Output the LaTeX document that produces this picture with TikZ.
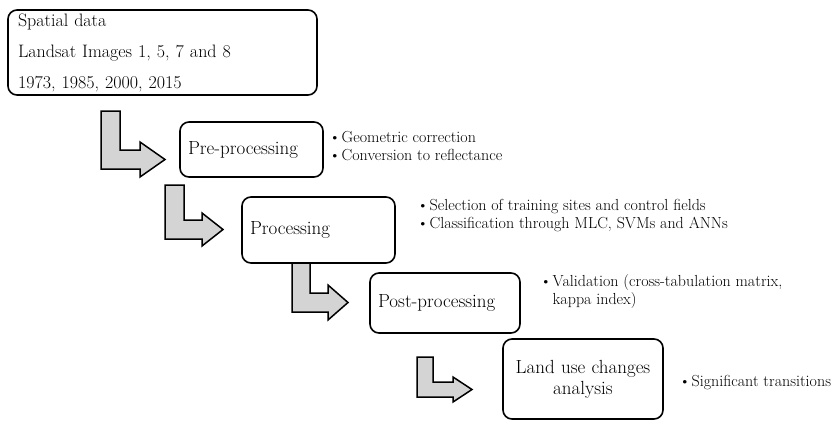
\documentclass[tikz,border=0pt]{standalone}
\usetikzlibrary{positioning}
\definecolor{arrowgray}{RGB}{212,212,212}
\newcommand{\bul}{\textbullet\kern1pt}
\begin{document}
\begin{tikzpicture}[x=1pt, y=-1pt]
    \tikzset{block/.style={rectangle, draw, rounded corners=9pt, line width=1.6pt, align=left, inner xsep=8pt, font=\fontsize{19}{21}\selectfont}}
    \tikzset{info/.style={anchor=west, align=left, inner sep=0pt, font=\fontsize{16}{18}\selectfont}}
    \tikzset{bent/.style={draw, line width=1.5pt, fill=arrowgray, line join=miter}}
    \useasboundingbox (0,0) rectangle (839,424);

    % bent arrows between the steps
    \draw[bent] (101,111) -- (120,111) -- (120,150) -- (140,150) -- (140,142) -- (165,159.5)
        -- (140,177) -- (140,169) -- (101,169) -- cycle;
    \draw[bent] (165,185) -- (184,185) -- (184,220) -- (202,220) -- (202,213) -- (223,229.5)
        -- (202,246) -- (202,239) -- (165,239) -- cycle;
    \draw[bent] (292,263) -- (310,263) -- (310,293) -- (328,293) -- (328,285) -- (348,302.5)
        -- (328,320) -- (328,312) -- (292,312) -- cycle;
    \draw[bent] (417,357) -- (433,357) -- (433,382) -- (453,382) -- (453,377) -- (472,389.5)
        -- (453,402) -- (453,397) -- (417,397) -- cycle;

    \node[block, minimum width=309pt, minimum height=85pt, text width=289pt, inner xsep=10pt,
        font=\fontsize{18}{31}\selectfont] (data) at (162.5,52.5)
        {Spatial data\\Landsat Images 1, 5, 7 and 8\\1973, 1985, 2000, 2015};
    \node[block, minimum width=143pt, minimum height=55pt, text width=127pt] (pre) at (251.5,149.5) {Pre-processing};
    \node[block, minimum width=153pt, minimum height=66pt, text width=137pt] (proc) at (318.5,230) {Processing};
    \node[block, minimum width=150pt, minimum height=60pt, text width=134pt] (post) at (445,303) {Post-processing};
    \node[block, minimum width=160pt, minimum height=80pt, text width=144pt, align=center] (land) at (583,379)
        {Land use changes\\analysis};

    \node[info] (preinfo) at (329,146) {\bul Geometric correction\\\bul Conversion to reflectance};
    \node[info] (procinfo) at (417,216) {\bul Selection of training sites and control fields\\\bul Classification through MLC, SVMs and ANNs};
    \node[info] (postinfo) at (540,292) {\bul Validation (cross-tabulation matrix,\\\phantom{\bul}kappa index)};
    \node[info] (landinfo) at (679,383) {\bul Significant transitions};
\end{tikzpicture}
\end{document}
